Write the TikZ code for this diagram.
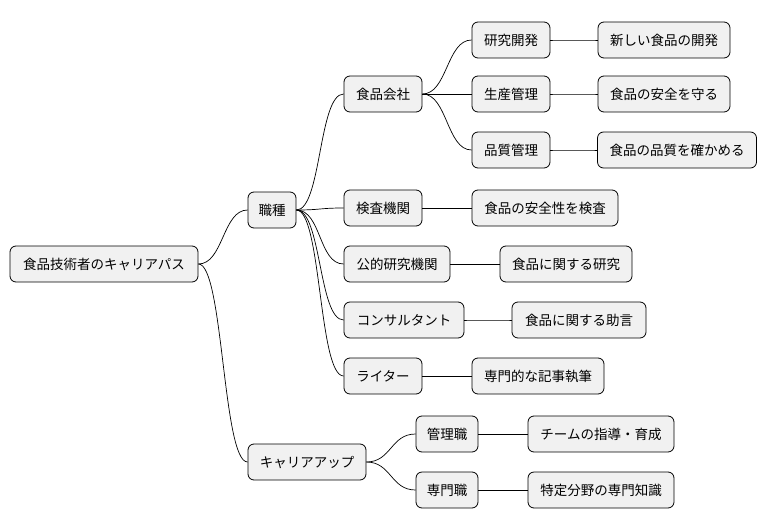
\documentclass[tikz,border=0pt]{standalone}
\usepackage{fontspec}
\setmainfont{Noto Sans CJK JP}
\definecolor{boxfill}{HTML}{F1F1F1}
\tikzset{
  box/.style={draw=black, fill=boxfill, rounded corners=6pt, minimum height=36pt,
    inner xsep=0pt, font=\fontsize{13.5}{15}\selectfont, line width=0.8pt},
  link/.style={draw=black, line width=0.7pt},
}
\begin{document}
\begin{tikzpicture}[x=1pt,y=-1pt]
\useasboundingbox (0,0) rectangle (768,527);
% root and first level
\node[box, minimum width=188pt] (root) at (104,264) {食品技術者のキャリアパス};
\node[box, minimum width=48pt] (kind) at (272,210) {職種};
\node[box, minimum width=118pt] (up) at (307,462) {キャリアアップ};
% kinds of work
\node[box, minimum width=78pt] (company) at (383,94) {食品会社};
\node[box, minimum width=78pt] (inspect) at (383,208) {検査機関};
\node[box, minimum width=106pt] (public) at (397,264) {公的研究機関};
\node[box, minimum width=120pt] (consult) at (404,320) {コンサルタント};
\node[box, minimum width=78pt] (writer) at (383,376) {ライター};
% company roles
\node[box, minimum width=78pt] (rnd) at (511,40) {研究開発};
\node[box, minimum width=78pt] (prod) at (511,94) {生産管理};
\node[box, minimum width=78pt] (qual) at (511,150) {品質管理};
% career up
\node[box, minimum width=62pt] (manage) at (447,434) {管理職};
\node[box, minimum width=62pt] (expert) at (447,490) {専門職};
% leaves
\node[box, minimum width=132pt] (rndl) at (664,40) {新しい食品の開発};
\node[box, minimum width=132pt] (prodl) at (664,94) {食品の安全を守る};
\node[box, minimum width=159pt] (quall) at (677,150) {食品の品質を確かめる};
\node[box, minimum width=146pt] (inspectl) at (545,208) {食品の安全性を検査};
\node[box, minimum width=132pt] (publicl) at (566,264) {食品に関する研究};
\node[box, minimum width=134pt] (consultl) at (579,320) {食品に関する助言};
\node[box, minimum width=132pt] (writerl) at (538,376) {専門的な記事執筆};
\node[box, minimum width=146pt] (managel) at (601,434) {チームの指導・育成};
\node[box, minimum width=146pt] (expertl) at (601,490) {特定分野の専門知識};
% connectors
\foreach \a/\b in {root/kind, root/up, kind/company, kind/inspect, kind/public,
  kind/consult, kind/writer, company/rnd, company/prod, company/qual,
  up/manage, up/expert, rnd/rndl, prod/prodl, qual/quall, inspect/inspectl,
  public/publicl, consult/consultl, writer/writerl, manage/managel, expert/expertl}
  \draw[link] (\a.east) .. controls ([xshift=25pt]\a.east) and ([xshift=-25pt]\b.west) .. (\b.west);
\end{tikzpicture}
\end{document}
